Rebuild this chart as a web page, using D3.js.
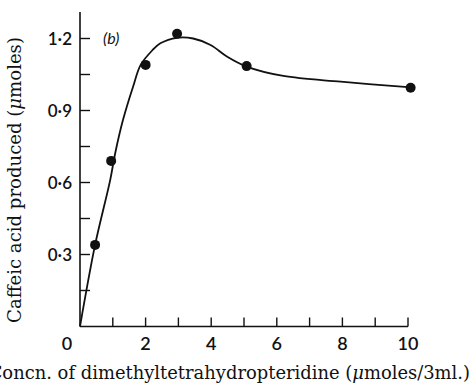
<!DOCTYPE html>
<html><head><meta charset="utf-8">
<script src="https://cdn.jsdelivr.net/npm/d3@7/dist/d3.min.js"></script>
<style>
html,body{margin:0;padding:0;background:#fff;}
svg{display:block;}
</style></head>
<body>
<svg id="chart" width="474" height="385"></svg>
<script>
// Measured points
const concn = [0.46, 0.95, 2.0, 2.96, 5.08, 10.08];
const caffeic = [0.34, 0.69, 1.09, 1.22, 1.085, 0.995];
// Smooth fitted curve
const curveX = [0, 0.46, 0.92, 1.07, 1.31, 1.62, 1.85, 2.2, 2.45, 2.96, 3.45, 3.98, 4.49, 5.08, 6.2, 7.95, 10];
const curveY = [0, 0.34, 0.61, 0.72, 0.86, 1.0, 1.09, 1.15, 1.18, 1.203, 1.2, 1.173, 1.124, 1.083, 1.044, 1.02, 0.997];
// Ticks
const xTicks = [1,2,3,4,5,6,7,8,9,10];
const xTickLabels = [2,4,6,8,10];
const yTicks = [0.15,0.3,0.45,0.6,0.75,0.9,1.05,1.2];
const yTickLabels = ["0·3","0·6","0·9","1·2"];
const yTickLabelVals = [0.3,0.6,0.9,1.2];
const xTitle = "Concn. of dimethyltetrahydropteridine (\u03BCmoles/3ml.)";
const yTitle = "Caffeic acid produced (\u03BCmoles)";
const panel = "(b)";

const svg = d3.select("#chart");
const x = d3.scaleLinear().domain([0,10]).range([80,408]);
const y = d3.scaleLinear().domain([0,1.2]).range([326.5,38.5]);

const ink = "#111";
const tickFont = "Lato, 'Open Sans', sans-serif";
const serif = "'DejaVu Serif', 'Liberation Serif', serif";

// axes lines
svg.append("line").attr("x1",x(0)).attr("x2",x(0)).attr("y1",y(0)).attr("y2",y(1.31))
  .attr("stroke",ink).attr("stroke-width",1.6);
svg.append("line").attr("x1",x(0)).attr("x2",x(10)).attr("y1",y(0)).attr("y2",y(0))
  .attr("stroke",ink).attr("stroke-width",1.6);

// x ticks (inward)
svg.selectAll(".xt").data(xTicks).enter().append("line")
  .attr("x1",d=>x(d)).attr("x2",d=>x(d)).attr("y1",y(0)).attr("y2",y(0)-9)
  .attr("stroke",ink).attr("stroke-width",1.4);
// y ticks (inward)
svg.selectAll(".yt").data(yTicks).enter().append("line")
  .attr("x1",x(0)).attr("x2",x(0)+10).attr("y1",d=>y(d)).attr("y2",d=>y(d))
  .attr("stroke",ink).attr("stroke-width",1.4);

// x tick labels
svg.selectAll(".xl").data(xTickLabels).enter().append("text")
  .attr("x",d=>x(d)).attr("y",350).attr("text-anchor","middle")
  .attr("font-family",tickFont).attr("font-weight",600).attr("font-size",18).attr("fill",ink).text(d=>d);
// origin label
svg.append("text").attr("x",67).attr("y",350).attr("text-anchor","middle")
  .attr("font-family",tickFont).attr("font-weight",600).attr("font-size",18).attr("fill",ink).text("0");
// y tick labels
svg.selectAll(".yl").data(yTickLabelVals).enter().append("text")
  .attr("x",72).attr("y",d=>y(d)).attr("dy","0.36em").attr("text-anchor","end")
  .attr("font-family",tickFont).attr("font-weight",600).attr("font-size",17).attr("fill",ink)
  .text((d,i)=>yTickLabels[i]);

// panel label
svg.append("text").attr("x",103).attr("y",44).attr("font-family",tickFont)
  .attr("font-style","italic").attr("font-size",16).attr("fill",ink).text(panel);

// axis titles
function richText(sel, str){
  const parts = str.split("\u03BC");
  sel.append("tspan").text(parts[0]);
  sel.append("tspan").attr("font-style","italic").text("\u03BC");
  sel.append("tspan").text(parts[1]);
}
const yt = svg.append("text").attr("transform","translate(21,180) rotate(-90)")
  .attr("text-anchor","middle").attr("font-family",serif).attr("font-size",15).attr("fill",ink);
richText(yt, yTitle);
// fit y title to ~286px
const yw = yt.node().getComputedTextLength();
yt.attr("font-size", 15*286/yw);

const xt = svg.append("text").attr("x",470).attr("y",379).attr("text-anchor","end")
  .attr("font-family",serif).attr("font-size",15).attr("fill",ink);
richText(xt, xTitle);
// fit so that the part after "C" spans ~470px
const probe = svg.append("text").attr("font-family",serif).attr("font-size",15);
richText(probe, xTitle.slice(1));
const pw = probe.node().getComputedTextLength();
probe.remove();
xt.attr("font-size", 15*468/pw);

// curve
const line = d3.line().x(d=>x(d[0])).y(d=>y(d[1])).curve(d3.curveCatmullRom.alpha(0.5));
svg.append("path").datum(d3.zip(curveX,curveY)).attr("d",line)
  .attr("fill","none").attr("stroke",ink).attr("stroke-width",1.8);

// points
svg.selectAll(".pt").data(d3.zip(concn,caffeic)).enter().append("circle")
  .attr("cx",d=>x(d[0])).attr("cy",d=>y(d[1])).attr("r",5).attr("fill",ink);
</script>
</body></html>
